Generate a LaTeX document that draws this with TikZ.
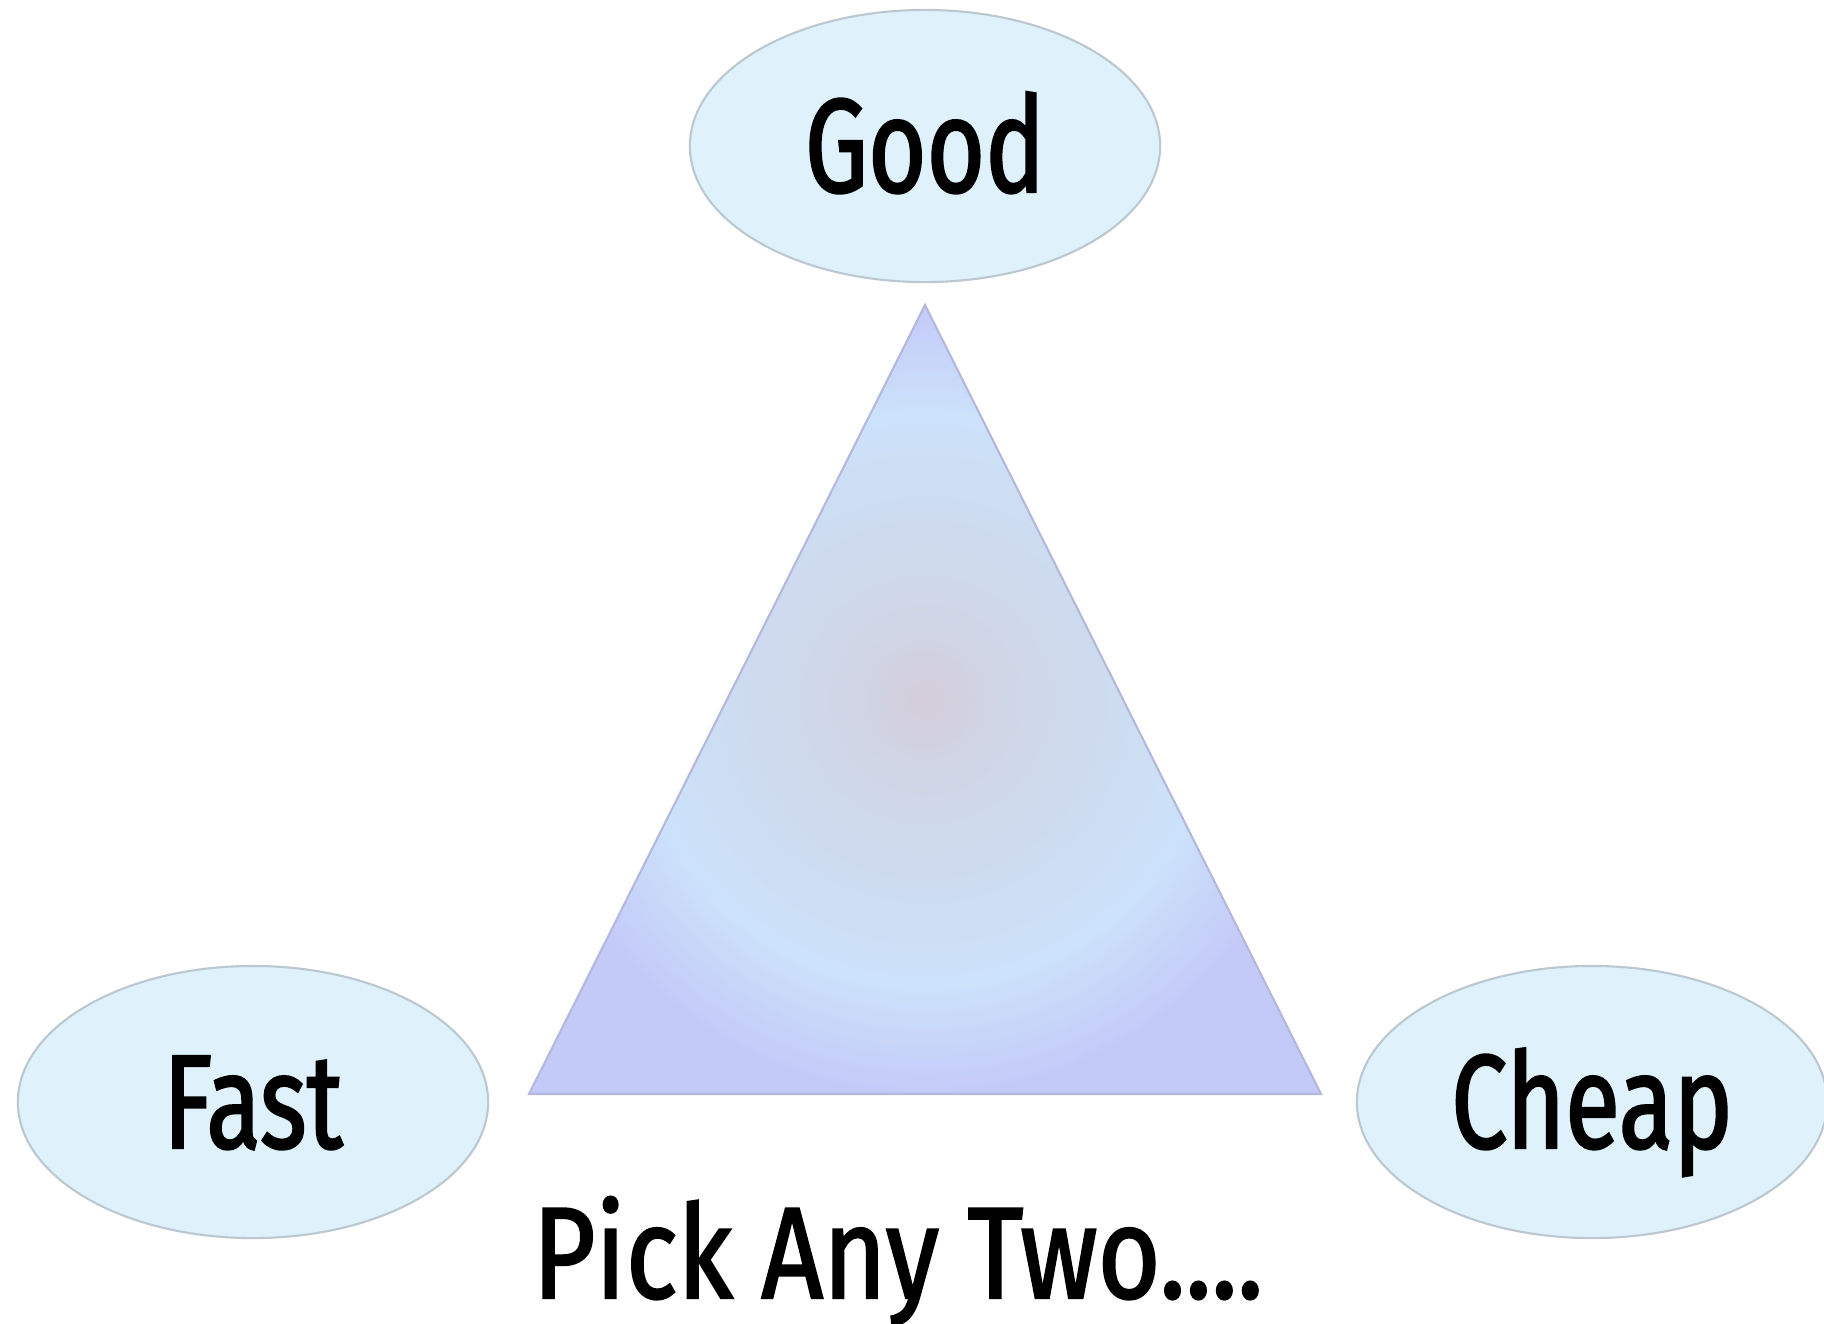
\documentclass[tikz,border=0pt]{standalone}
\usepackage{fontspec}
\setmainfont[FakeStretch=0.75, FakeBold=1.6]{Fira Sans}
\newfontfamily\capfont[FakeStretch=0.83, FakeBold=1.6]{Fira Sans}
\usetikzlibrary{shapes.geometric, positioning}

\definecolor{ovalfill}{HTML}{DFF1FB}
\definecolor{ovalline}{HTML}{BCC8D0}
\definecolor{triline}{HTML}{B4B8DC}
\definecolor{tricore}{HTML}{D4CCDA}
\definecolor{trimid}{HTML}{CFD6E6}
\definecolor{triblue}{HTML}{CCE2FA}
\definecolor{trilav}{HTML}{C4CAF8}
\pgfdeclareradialshading{triglow}{\pgfpoint{0bp}{0bp}}{%
  color(0bp)=(tricore); color(5bp)=(trimid); color(12bp)=(trimid!50!triblue);
  color(18bp)=(triblue); color(25bp)=(trilav); color(50bp)=(trilav)}

\begin{document}
\begin{tikzpicture}[
        x=0.01cm, y=-0.01cm,
        oval/.style={ellipse, draw=ovalline, fill=ovalfill, line width=0.6pt,
                     minimum width=4.7cm, minimum height=2.72cm, inner sep=0pt,
                     font=\fontsize{38}{40}\selectfont, text height=0.92cm, text depth=0pt},
        caption/.style={font=\capfont\fontsize{37}{40}\selectfont, inner sep=0pt, anchor=base}
    ]
    \useasboundingbox[fill=white] (0,0) rectangle (1824,1323);

    % Triangle
    \coordinate (top) at (925,305);
    \coordinate (bl)  at (529,1094);
    \coordinate (br)  at (1321,1094);
    \draw[triline, line width=0.6pt, shading=triglow] (top) -- (br) -- (bl) -- cycle;

    % Corners
    \node[oval] (good)  at (925,146)  {Good};
    \node[oval] (fast)  at (253,1102) {Fast};
    \node[oval] (cheap) at (1592,1102) {Cheap};

    % Caption
    \node[caption] (pick) at (898,1298) {Pick Any Two....};
\end{tikzpicture}
\end{document}
